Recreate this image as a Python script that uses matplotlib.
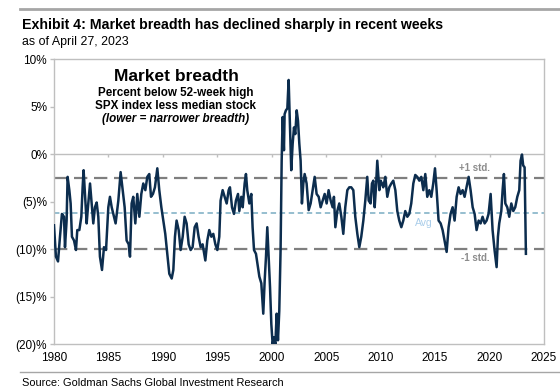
import numpy as np
import matplotlib
matplotlib.use('Agg')
import matplotlib.pyplot as plt
from matplotlib.lines import Line2D

plt.rcParams['font.family'] = ['Liberation Sans', 'DejaVu Sans']

# decimal year, breadth (%)
years = [1980.00, 1980.18, 1980.37, 1980.55, 1980.73, 1980.92, 1981.01, 1981.16, 1981.25, 1981.41,
         1981.53, 1981.65, 1981.84, 1982.02, 1982.14, 1982.33, 1982.51, 1982.63, 1982.72, 1982.88,
         1983.00, 1983.12, 1983.31, 1983.46, 1983.61, 1983.76, 1983.92, 1984.07, 1984.22, 1984.41,
         1984.59, 1984.78, 1984.99, 1985.14, 1985.30, 1985.45, 1985.66, 1985.91, 1986.12, 1986.31,
         1986.49, 1986.67, 1986.86, 1986.98, 1987.13, 1987.28, 1987.47, 1987.65, 1987.84, 1988.02,
         1988.20, 1988.39, 1988.57, 1988.75, 1988.91, 1989.09, 1989.27, 1989.49, 1989.67, 1989.86,
         1990.04, 1990.22, 1990.41, 1990.59, 1990.81, 1990.96, 1991.11, 1991.26, 1991.45, 1991.63,
         1991.82, 1992.00, 1992.18, 1992.37, 1992.55, 1992.73, 1992.92, 1993.10, 1993.28, 1993.47,
         1993.65, 1993.90, 1994.08, 1994.26, 1994.45, 1994.63, 1994.82, 1995.00, 1995.18, 1995.30,
         1995.49, 1995.67, 1995.86, 1996.04, 1996.16, 1996.35, 1996.53, 1996.71, 1996.90, 1997.02,
         1997.20, 1997.33, 1997.51, 1997.63, 1997.75, 1997.94, 1998.12, 1998.24, 1998.37, 1998.55,
         1998.73, 1998.86, 1999.04, 1999.22, 1999.35, 1999.47, 1999.59, 1999.71, 1999.84, 1999.96,
         2000.08, 2000.20, 2000.33, 2000.45, 2000.57, 2000.69, 2000.81, 2000.91, 2001.00, 2001.12,
         2001.18, 2001.30, 2001.43, 2001.55, 2001.67, 2001.79, 2001.92, 2002.04, 2002.16, 2002.29,
         2002.41, 2002.53, 2002.65, 2002.77, 2002.90, 2003.02, 2003.20, 2003.39, 2003.57, 2003.76,
         2003.94, 2004.12, 2004.31, 2004.49, 2004.67, 2004.86, 2005.04, 2005.22, 2005.41, 2005.59,
         2005.71, 2005.84, 2006.02, 2006.20, 2006.39, 2006.57, 2006.75, 2006.94, 2007.12, 2007.30,
         2007.49, 2007.67, 2007.86, 2008.04, 2008.22, 2008.41, 2008.59, 2008.77, 2008.90, 2009.08,
         2009.20, 2009.33, 2009.45, 2009.57, 2009.69, 2009.88, 2010.00, 2010.12, 2010.24, 2010.43,
         2010.61, 2010.79, 2010.98, 2011.16, 2011.35, 2011.53, 2011.71, 2011.90, 2012.08, 2012.26,
         2012.45, 2012.63, 2012.81, 2013.00, 2013.18, 2013.36, 2013.55, 2013.73, 2013.92, 2014.10,
         2014.28, 2014.47, 2014.65, 2014.83, 2014.99, 2015.14, 2015.32, 2015.51, 2015.69, 2015.87,
         2016.06, 2016.24, 2016.42, 2016.61, 2016.79, 2016.98, 2017.16, 2017.34, 2017.53, 2017.71,
         2017.89, 2018.08, 2018.26, 2018.45, 2018.63, 2018.81, 2019.00, 2019.18, 2019.36, 2019.55,
         2019.73, 2019.91, 2020.10, 2020.28, 2020.46, 2020.65, 2020.77, 2020.89, 2021.08, 2021.20,
         2021.32, 2021.45, 2021.63, 2021.81, 2022.00, 2022.18, 2022.36, 2022.55, 2022.73, 2022.85,
         2022.98, 2023.09, 2023.22, 2023.34]
breadth = [-7.5, -10.8, -11.3, -8.7, -6.3, -6.6, -9.8, -7.0, -2.4, -3.8,
           -5.2, -8.7, -9.1, -10.1, -8.0, -8.0, -6.6, -3.5, -1.7, -4.9,
           -7.3, -5.6, -3.1, -5.2, -7.3, -5.6, -5.1, -6.6, -10.8, -12.2,
           -9.8, -10.1, -5.6, -4.5, -5.6, -6.3, -7.3, -4.9, -1.9, -3.8,
           -5.6, -9.1, -9.5, -10.8, -5.2, -4.5, -7.3, -4.2, -6.6, -4.2,
           -3.1, -3.8, -2.4, -2.1, -4.5, -4.2, -3.5, -1.5, -3.8, -5.6,
           -7.0, -8.4, -10.5, -12.6, -13.1, -12.2, -8.7, -7.0, -8.0, -10.1,
           -8.7, -6.6, -7.3, -9.5, -10.1, -9.8, -7.7, -7.3, -8.7, -9.8,
           -9.5, -11.2, -9.1, -8.0, -8.7, -8.4, -9.5, -10.1, -8.7, -4.9,
           -3.8, -4.5, -5.2, -3.8, -3.5, -5.6, -6.3, -4.9, -4.2, -6.0,
           -4.5, -5.6, -3.1, -2.1, -3.8, -5.2, -4.2, -7.7, -10.1, -10.5,
           -11.9, -12.9, -13.6, -16.8, -13.3, -10.8, -7.7, -10.8, -14.0, -17.9,
           -20.0, -19.3, -20.0, -16.8, -19.6, -16.5, -10.1, -0.7, 3.9, 0.4,
           4.2, 4.6, 4.8, 7.8, 3.2, -1.7, 1.1, 2.8, 2.1, 4.6,
           3.5, 1.1, -0.7, -5.2, -3.1, -2.1, -3.1, -5.9, -5.2, -3.8,
           -2.4, -4.2, -4.5, -5.6, -4.9, -4.2, -5.2, -3.8, -4.9, -5.6,
           -4.5, -7.7, -6.0, -5.2, -6.6, -8.4, -5.6, -3.8, -3.5, -3.5,
           -3.8, -6.6, -8.4, -9.8, -8.7, -7.0, -4.9, -2.4, -4.9, -5.2,
           -3.1, -2.8, -5.6, -3.5, -0.7, -3.8, -2.8, -3.1, -3.5, -2.4,
           -4.5, -3.5, -3.1, -2.8, -3.8, -6.0, -7.0, -7.7, -7.0, -6.0,
           -6.6, -6.3, -5.2, -3.1, -2.2, -2.4, -2.8, -2.4, -3.8, -2.1,
           -4.5, -3.8, -4.5, -3.1, -1.5, -3.8, -7.0, -7.3, -8.0, -9.1,
           -10.3, -7.7, -6.3, -5.6, -7.0, -4.5, -3.5, -4.2, -3.8, -4.5,
           -3.5, -2.4, -3.8, -5.6, -6.3, -8.0, -7.0, -7.3, -6.6, -7.3,
           -7.0, -6.3, -4.2, -8.0, -10.1, -11.9, -8.7, -7.3, -6.0, -3.8,
           -2.1, -5.2, -5.6, -6.6, -5.2, -6.0, -5.6, -4.5, -3.8, -0.7,
           -0.05, -1.2, -1.4, -10.5]

avg = -6.25
plus_std = -2.5
minus_std = -10.0

x_ticks = [1980, 1985, 1990, 1995, 2000, 2005, 2010, 2015, 2020, 2025]
y_ticks = [10, 5, 0, -5, -10, -15, -20]
y_labels = ['10%', '5%', '0%', '(5)%', '(10)%', '(15)%', '(20)%']

navy = '#0c2d4e'
frame = '#bfbfbf'

fig = plt.figure(figsize=(5.6, 3.91), dpi=100)
ax = fig.add_axes([0.0964, 0.120, 0.875, 0.729])

ax.axhline(plus_std, color='#7f7f7f', lw=1.6, dashes=(6, 3), zorder=2)
ax.axhline(minus_std, color='#7f7f7f', lw=1.6, dashes=(6, 3), zorder=2)
ax.axhline(avg, color='#8db9cc', lw=1.3, dashes=(3, 2), zorder=2)
ax.axhline(0, color=frame, lw=1.0, zorder=1)
ax.vlines(x_ticks[1:-1], 0, -0.35, color=frame, lw=1.0, zorder=1)

ax.plot(years, breadth, color=navy, lw=1.8, zorder=3)

ax.set_xlim(1980, 2025)
ax.set_ylim(-20, 10)
ax.set_xticks(x_ticks)
ax.set_xticklabels([str(t) for t in x_ticks])
ax.set_yticks(y_ticks)
ax.set_yticklabels(y_labels)
ax.tick_params(axis='x', length=0, pad=6, labelsize=8.5, colors='#000000')
ax.tick_params(axis='y', length=3, width=1, color=frame, pad=2, labelsize=8.5)
for s in ax.spines.values():
    s.set_color(frame)
    s.set_linewidth(1.0)

# in-chart annotations
ax.text(0.249, 0.940, 'Market breadth', transform=ax.transAxes, ha='center', va='center',
        fontsize=12.5, fontweight='bold')
ax.text(0.249, 0.882, 'Percent below 52-week high', transform=ax.transAxes, ha='center',
        va='center', fontsize=8.4, fontweight='bold')
ax.text(0.249, 0.835, 'SPX index less median stock', transform=ax.transAxes, ha='center',
        va='center', fontsize=8.4, fontweight='bold')
ax.text(0.249, 0.789, '(lower = narrower breadth)', transform=ax.transAxes, ha='center',
        va='center', fontsize=8.4, fontweight='bold', style='italic')

ax.text(2018.6, -1.5, '+1 std.', ha='center', va='center', fontsize=7,
        fontweight='bold', color='#8c8c8c')
ax.text(2018.7, -10.9, '-1 std.', ha='center', va='center', fontsize=7,
        fontweight='bold', color='#8c8c8c')
ax.text(2014.0, -7.3, 'Avg', ha='center', va='center', fontsize=7.5,
        color='#a9cdea')

# header / footer
fig.text(0.039, 0.936, 'Exhibit 4: Market breadth has declined sharply in recent weeks',
         ha='left', va='center', fontsize=10.2, fontweight='bold')
fig.text(0.039, 0.893, 'as of April 27, 2023', ha='left', va='center', fontsize=8.9)
fig.text(0.039, 0.0205, 'Source: Goldman Sachs Global Investment Research', ha='left',
         va='center', fontsize=7.9)
fig.add_artist(Line2D([0.036, 1.0], [0.977, 0.977], color='#a6a6a6', lw=2.0))
fig.add_artist(Line2D([0.036, 1.0], [0.049, 0.049], color='#a6a6a6', lw=1.0))

fig.savefig('out.png', dpi=100)
